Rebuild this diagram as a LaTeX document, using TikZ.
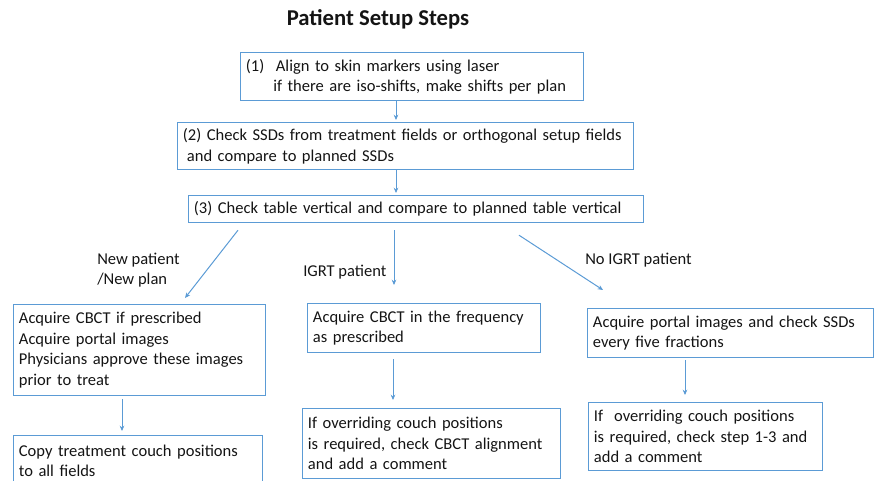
\documentclass[tikz,border=0pt]{standalone}
\usepackage{fontspec}
\setmainfont{Carlito}
\usetikzlibrary{arrows.meta, calc}
\definecolor{boxblue}{RGB}{91, 155, 213}
\definecolor{textdark}{RGB}{20, 20, 20}

\begin{document}
\begin{tikzpicture}[
  x=0.75pt, y=-0.75pt,
  stepbox/.style={draw=boxblue, line width=0.9pt, anchor=north west, align=left, inner xsep=4pt, inner ysep=0pt, text=textdark, font=\fontsize{12.4}{15.4}\selectfont},
  link/.style={draw=boxblue, line width=0.75pt, -{Stealth[length=4pt, width=3.5pt]}},
  branch/.style={font=\fontsize{12.4}{15.4}\selectfont, text=textdark, align=left, anchor=west, inner sep=0pt}
]
  \useasboundingbox (0,0) rectangle (879,481);
  \clip (0,0) rectangle (879,481);

  % Title
  \node[font=\fontsize{17}{20}\selectfont\bfseries, text=textdark] (title) at (378,19) {Patient Setup Steps};

  % Common steps
  \node[stepbox, text width=249.25pt, minimum height=36pt] (align) at (240,52)
    {\makebox[22.5pt][l]{(1)}Align to skin markers using laser\\\hspace{20.5pt}if there are iso-shifts, make shifts per plan};
  \node[stepbox, text width=334pt, minimum height=35.25pt] (ssd) at (177,122)
    {(2) Check SSDs from treatment fields or orthogonal setup fields\\\hspace{3pt}and compare to planned SSDs};
  \node[stepbox, text width=333.25pt, minimum height=20.25pt] (table) at (188,195)
    {(3) Check table vertical and compare to planned table vertical};

  % New patient branch
  \node[stepbox, text width=181pt, minimum height=68.25pt] (newimg) at (13,304)
    {Acquire CBCT if prescribed\\Acquire portal images\\Physicians approve these images\\prior to treat};
  \node[stepbox, text width=178.75pt, minimum height=37.5pt] (copy) at (13,435)
    {Copy treatment couch positions\\to all fields};

  % IGRT branch
  \node[stepbox, text width=166.75pt, minimum height=36.75pt] (cbct) at (307,303)
    {Acquire CBCT in the frequency\\as prescribed};
  \node[stepbox, text width=185.5pt, minimum height=52.5pt] (igrtover) at (302,408)
    {If overriding couch positions\\is required, check CBCT alignment\\and add a comment};

  % No IGRT branch
  \node[stepbox, text width=206.5pt, minimum height=36.75pt] (portal) at (587,308)
    {Acquire portal images and check SSDs\\every five fractions};
  \node[stepbox, text width=167.5pt, minimum height=51pt] (noover) at (588,402)
    {If\ \ overriding couch positions\\is required, check step 1-3 and\\add a comment};

  % Branch labels
  \node[branch] (lblnew) at (97,270) {New patient\\/New plan};
  \node[branch] (lbligrt) at (303,272) {IGRT patient};
  \node[branch] (lblno) at (585,260) {No IGRT patient};

  % Connectors
  \draw[link] ($(align.south west)+(156,0)$) -- ($(ssd.north west)+(219,-2)$);
  \draw[link] ($(ssd.south west)+(219,0)$) -- ($(table.north west)+(208,-2)$);
  \draw[link] ($(table.south west)+(50,7)$) -- ($(newimg.north west)+(172,-6)$);
  \draw[link] ($(table.south west)+(206,7)$) -- ($(cbct.north west)+(87,-18)$);
  \draw[link] ($(table.south west)+(331,12)$) -- ($(portal.north west)+(16,-18)$);
  \draw[link] ($(newimg.south west)+(109,3)$) -- ($(copy.north west)+(109,-4)$);
  \draw[link] ($(cbct.south west)+(86,6)$) -- ($(igrtover.north west)+(91,-8)$);
  \draw[link] ($(portal.south west)+(98,2)$) -- ($(noover.north west)+(97,-7)$);
\end{tikzpicture}
\end{document}
